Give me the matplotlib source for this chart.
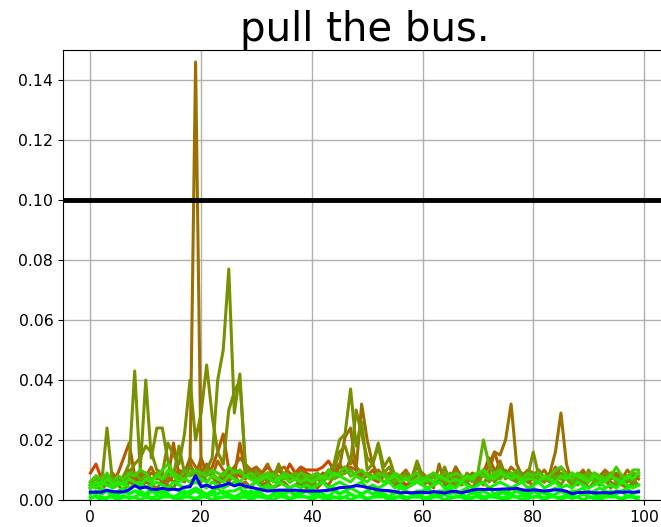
import numpy as np
import matplotlib
matplotlib.use("Agg")
import matplotlib.pyplot as plt

# values in thousandths, one entry per step 0..99
orange_red = [9, 12, 7, 6, 8, 5, 7, 9, 6, 8, 7, 6, 9, 7, 8, 6, 7, 8, 9, 8,
              7, 9, 8, 6, 8, 7, 9, 8, 7, 9, 10, 9, 11, 9, 10, 8, 12, 9, 11, 10,
              10, 10, 11, 13, 10, 9, 11, 8, 9, 7, 8, 7, 6, 8, 7, 6, 7, 5, 6, 7,
              6, 7, 5, 6, 7, 6, 5, 7, 6, 8, 7, 9, 14, 10, 8, 9, 7, 8, 7, 6,
              7, 8, 6, 8, 9, 7, 8, 9, 7, 8, 9, 8, 7, 8, 9, 8, 7, 8, 9, 8]
dark_orange = [5, 6, 5, 7, 6, 9, 14, 19, 8, 6, 7, 9, 8, 6, 7, 19, 8, 10, 12, 8,
               14, 9, 11, 16, 22, 10, 8, 19, 9, 7, 8, 7, 9, 8, 10, 8, 7, 9, 8, 7,
               8, 7, 9, 8, 10, 12, 9, 14, 11, 9, 8, 10, 7, 9, 8, 7, 6, 8, 7, 6,
               7, 6, 8, 7, 6, 8, 7, 6, 8, 7, 9, 8, 12, 16, 10, 8, 9, 7, 8, 9,
               8, 10, 7, 9, 8, 11, 9, 8, 7, 9, 8, 7, 8, 6, 7, 8, 7, 6, 8, 7]
brown = [6, 8, 7, 5, 9, 6, 8, 10, 7, 9, 8, 11, 7, 9, 6, 8, 10, 9, 14, 11,
         9, 12, 8, 13, 10, 9, 11, 14, 12, 10, 11, 9, 12, 8, 10, 11, 9, 8, 10, 9,
         8, 9, 7, 10, 8, 12, 9, 11, 10, 8, 9, 7, 10, 8, 9, 7, 8, 10, 7, 8,
         9, 7, 8, 6, 8, 7, 11, 8, 7, 9, 8, 10, 12, 9, 13, 8, 11, 9, 8, 10,
         9, 8, 10, 7, 11, 8, 9, 7, 8, 10, 7, 9, 8, 10, 8, 9, 7, 10, 8, 9]
golden = [4, 5, 3, 6, 4, 5, 3, 6, 5, 4, 6, 5, 4, 6, 5, 4, 7, 6, 12, 146,
          10, 6, 8, 5, 7, 6, 9, 5, 6, 4, 7, 5, 6, 4, 5, 6, 4, 5, 6, 4,
          5, 4, 6, 5, 8, 11, 21, 24, 10, 32, 20, 12, 8, 6, 7, 5, 6, 4, 5, 6,
          5, 6, 4, 12, 5, 6, 11, 5, 6, 4, 7, 5, 9, 16, 15, 20, 32, 12, 8, 6,
          5, 7, 6, 9, 16, 29, 12, 6, 5, 7, 4, 6, 5, 7, 4, 6, 5, 4, 6, 5]
olive_a = [5, 4, 6, 7, 5, 8, 6, 9, 12, 14, 18, 16, 10, 9, 19, 15, 12, 22, 40, 20,
           29, 45, 28, 16, 12, 30, 36, 40, 12, 8, 10, 6, 9, 7, 12, 8, 6, 9, 7, 6,
           5, 7, 6, 8, 10, 16, 18, 12, 30, 22, 14, 12, 19, 11, 14, 8, 7, 9, 7, 13,
           8, 6, 9, 7, 11, 6, 8, 5, 9, 7, 8, 9, 6, 8, 12, 7, 9, 6, 8, 7,
           8, 10, 7, 6, 8, 9, 7, 5, 8, 6, 10, 7, 6, 9, 8, 7, 6, 8, 5, 9]
olive_b = [4, 6, 5, 24, 6, 5, 8, 12, 43, 10, 40, 14, 24, 24, 13, 8, 18, 9, 11, 8,
           6, 10, 14, 40, 50, 77, 29, 42, 10, 9, 7, 8, 6, 7, 5, 8, 6, 7, 5, 6,
           6, 5, 7, 9, 12, 20, 22, 37, 18, 26, 10, 12, 18, 9, 11, 7, 6, 8, 5, 12,
           6, 8, 5, 7, 6, 9, 5, 7, 6, 8, 5, 9, 9, 6, 8, 10, 7, 6, 9, 8,
           16, 8, 6, 9, 7, 5, 8, 6, 7, 5, 6, 8, 5, 7, 6, 5, 8, 6, 7, 5]
yellow_green = [5, 7, 6, 8, 6, 7, 5, 8, 9, 7, 8, 6, 9, 7, 8, 9, 7, 10, 8, 9,
                8, 10, 9, 7, 9, 8, 10, 9, 8, 7, 9, 8, 7, 9, 8, 7, 8, 9, 7, 8,
                7, 8, 6, 9, 7, 8, 9, 10, 8, 7, 9, 8, 7, 9, 8, 6, 7, 8, 6, 7,
                7, 6, 8, 7, 9, 8, 6, 7, 8, 6, 9, 20, 12, 8, 7, 9, 8, 10, 7, 8,
                9, 7, 8, 6, 8, 7, 9, 6, 7, 8, 9, 6, 8, 7, 9, 6, 8, 7, 9, 8]
lime = [6, 8, 7, 9, 6, 8, 7, 9, 8, 10, 9, 7, 8, 10, 12, 9, 8, 7, 9, 10,
        9, 8, 10, 9, 8, 11, 9, 10, 8, 9, 7, 8, 9, 8, 7, 9, 8, 7, 9, 8,
        8, 9, 7, 10, 8, 9, 11, 8, 9, 10, 8, 7, 9, 8, 7, 9, 8, 7, 8, 9,
        7, 8, 9, 8, 7, 8, 9, 8, 7, 8, 9, 8, 7, 9, 10, 8, 9, 8, 7, 9,
        8, 9, 7, 8, 10, 11, 8, 7, 9, 8, 7, 9, 8, 7, 8, 11, 8, 7, 10, 10]
bright_green = [4, 6, 5, 7, 5, 6, 5, 7, 6, 5, 7, 6, 8, 7, 10, 8, 6, 7, 6, 8,
                7, 6, 8, 7, 6, 8, 7, 6, 8, 7, 6, 7, 8, 6, 7, 8, 6, 7, 6, 7,
                6, 7, 8, 7, 9, 8, 7, 6, 8, 7, 6, 8, 7, 6, 7, 8, 6, 7, 6, 7,
                6, 7, 6, 8, 7, 6, 7, 6, 8, 7, 9, 10, 8, 7, 9, 8, 7, 8, 6, 7,
                7, 6, 8, 7, 6, 8, 7, 9, 8, 7, 6, 8, 7, 6, 8, 7, 6, 8, 7, 9]
green_a = [5, 4, 6, 5, 4, 5, 6, 4, 5, 6, 4, 5, 6, 5, 4, 6, 5, 4, 5, 6,
           5, 4, 6, 5, 4, 5, 6, 5, 4, 5, 6, 4, 5, 4, 6, 5, 4, 5, 4, 5,
           4, 5, 6, 4, 5, 6, 5, 4, 5, 6, 4, 5, 4, 5, 6, 4, 5, 4, 5, 6,
           5, 4, 5, 6, 4, 5, 4, 6, 5, 4, 5, 6, 4, 5, 6, 5, 4, 5, 6, 4,
           5, 6, 4, 5, 6, 4, 5, 4, 6, 5, 4, 5, 6, 4, 5, 4, 6, 5, 4, 5]
green_b = [2, 3, 2, 3, 1, 2, 3, 2, 3, 2, 1, 3, 2, 3, 2, 1, 2, 3, 2, 3,
           2, 1, 3, 2, 3, 2, 1, 2, 3, 2, 3, 2, 1, 2, 3, 2, 3, 1, 2, 3,
           2, 3, 2, 1, 3, 2, 3, 2, 1, 2, 3, 2, 3, 2, 1, 3, 2, 3, 2, 1,
           2, 3, 1, 2, 3, 2, 3, 2, 1, 3, 2, 3, 2, 1, 2, 3, 2, 3, 2, 1,
           3, 2, 3, 1, 2, 3, 2, 1, 3, 2, 3, 2, 1, 2, 3, 2, 3, 1, 2, 3]
green_c = [1, 1, 0, 1, 1, 0, 1, 1, 1, 0, 1, 1, 0, 1, 1, 1, 0, 1, 1, 0,
           1, 1, 0, 1, 1, 1, 0, 1, 1, 0, 1, 1, 1, 0, 1, 1, 0, 1, 1, 1,
           0, 1, 1, 0, 1, 1, 1, 0, 1, 1, 0, 1, 1, 1, 0, 1, 1, 0, 1, 1,
           1, 0, 1, 1, 0, 1, 1, 1, 0, 1, 1, 0, 1, 1, 1, 0, 1, 1, 0, 1,
           1, 1, 0, 1, 1, 0, 1, 1, 1, 0, 1, 1, 0, 1, 1, 1, 0, 1, 1, 0]
green_d = [3, 2, 4, 3, 2, 3, 4, 2, 3, 3, 2, 4, 3, 2, 3, 4, 3, 2, 3, 4,
           3, 2, 3, 4, 2, 3, 3, 4, 2, 3, 2, 3, 4, 3, 2, 3, 4, 2, 3, 3,
           4, 2, 3, 3, 4, 2, 3, 4, 3, 2, 3, 4, 2, 3, 3, 2, 4, 3, 2, 3,
           3, 4, 2, 3, 3, 4, 2, 3, 4, 2, 3, 3, 4, 2, 3, 2, 4, 3, 3, 2,
           4, 3, 2, 3, 4, 3, 2, 3, 3, 4, 2, 3, 4, 3, 2, 3, 3, 4, 2, 3]
green_e = [0.5, 1.5, 1, 0.5, 2, 1, 1.5, 0.5, 1, 2, 1, 0.5, 1.5, 1, 2, 0.5, 1, 1.5, 1, 0.5,
           1.5, 1, 2, 0.5, 1, 1.5, 1, 0.5, 2, 1, 1.5, 1, 0.5, 1.5, 1, 2, 0.5, 1, 1.5, 1,
           1, 2, 0.5, 1.5, 1, 0.5, 1, 2, 1, 1.5, 0.5, 1, 1.5, 2, 1, 0.5, 1.5, 1, 1, 2,
           0.5, 1, 1.5, 1, 2, 0.5, 1, 1.5, 1, 0.5, 2, 1, 1.5, 1, 0.5, 1, 2, 1, 1.5, 0.5,
           1, 1.5, 0.5, 2, 1, 1, 1.5, 0.5, 1, 2, 1, 0.5, 1.5, 1, 2, 1, 0.5, 1.5, 1, 1]
blue = [2.6, 2.6, 2.6, 3.3, 2.8, 2.7, 2.7, 3.4, 4.8, 3.9, 4.4, 3.6, 3.5, 3.9, 3.5, 3.6, 3.4, 4.3, 4.4, 8.1,
        4.4, 5.0, 4.1, 4.5, 4.9, 5.6, 4.7, 5.3, 4.6, 4.2, 3.8, 3.4, 3.0, 3.1, 3.3, 3.3, 3.2, 3.3, 3.1, 3.0,
        3.0, 3.0, 3.1, 3.3, 3.6, 4.1, 4.2, 4.4, 4.8, 4.6, 4.2, 3.8, 3.4, 3.2, 3.1, 2.8, 2.4, 2.5, 2.4, 2.5,
        2.6, 2.4, 2.8, 2.6, 2.3, 2.8, 2.9, 2.4, 2.8, 3.3, 3.6, 3.5, 3.6, 3.5, 3.6, 3.7, 3.7, 3.9, 3.4, 3.2,
        3.4, 3.2, 3.0, 3.2, 3.4, 3.3, 2.9, 2.1, 2.5, 2.5, 2.6, 2.4, 2.4, 2.5, 2.3, 2.7, 2.6, 2.7, 2.6, 2.7]

threshold = 0.10

series = [orange_red, dark_orange, brown, golden, olive_a, olive_b,
          yellow_green, lime, bright_green, green_a, green_d, green_b,
          green_e, green_c]
colors = ['#c84800', '#b45a00', '#a86a00', '#9a7000', '#7e8c00', '#769200',
          '#5cb000', '#40d000', '#30e400', '#18f000', '#10f400', '#00f800',
          '#08fc00', '#00ff00']

fig = plt.figure(figsize=(6.61, 5.27), dpi=100)
ax = fig.add_axes([0.0953, 0.0512, 0.912, 0.854])

x = np.arange(len(blue))
for vals, col in zip(series, colors):
    ax.plot(x, np.array(vals) / 1000.0, color=col, lw=2.2)
ax.plot(x, np.array(blue) / 1000.0, color='#0000ff', lw=2.2)

ax.axhline(threshold, color='black', lw=3.5)

ax.set_xlim(-4.95, 103.95)
ax.set_ylim(0, 0.15)
ax.set_xticks([0, 20, 40, 60, 80, 100])
ax.set_yticks([0.0, 0.02, 0.04, 0.06, 0.08, 0.10, 0.12, 0.14])
ax.yaxis.set_major_formatter(matplotlib.ticker.FormatStrFormatter('%.2f'))
ax.tick_params(labelsize=11.3)
ax.grid(True, color='#b0b0b0', lw=1)
ax.set_axisbelow(True)
ax.set_title('pull the bus.', fontsize=29, pad=3)

plt.savefig('out.png', dpi=100)
